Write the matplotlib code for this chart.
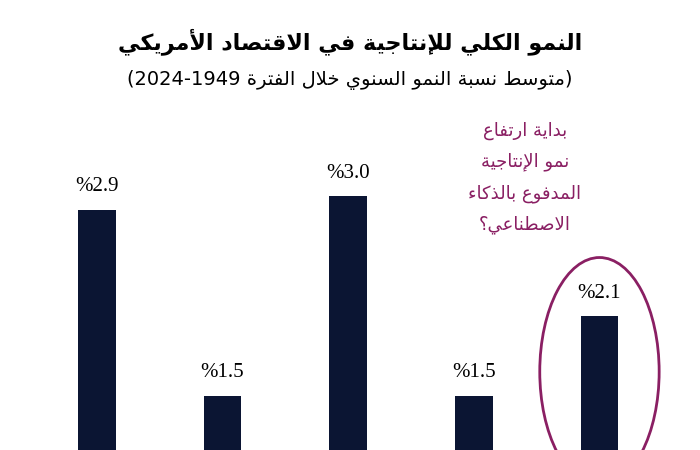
import re
import unicodedata
import matplotlib.pyplot as plt
from matplotlib.patches import Ellipse

periods = [0, 1, 2, 3, 4]
growth = [2.9, 1.5, 3.0, 1.5, 2.1]
labels = ["%2.9", "%1.5", "%3.0", "%1.5", "%2.1"]
title = "النمو الكلي للإنتاجية في الاقتصاد الأمريكي"
subtitle = "(متوسط نسبة النمو السنوي خلال الفترة 2024-1949)"
note = ["بداية ارتفاع", "نمو الإنتاجية", "المدفوع بالذكاء", "الاصطناعي؟"]

NAVY = "#0b1533"
PURPLE = "#8a1f63"


def forms(name):
    d = {}
    for f in ["ISOLATED", "FINAL", "INITIAL", "MEDIAL"]:
        try:
            d[f] = unicodedata.lookup(name + " " + f + " FORM")
        except KeyError:
            pass
    return d


LAM_ALEF = {"ا": "ARABIC LIGATURE LAM WITH ALEF",
            "أ": "ARABIC LIGATURE LAM WITH ALEF WITH HAMZA ABOVE",
            "إ": "ARABIC LIGATURE LAM WITH ALEF WITH HAMZA BELOW",
            "آ": "ARABIC LIGATURE LAM WITH ALEF WITH MADDA ABOVE"}


def shape(text):
    toks = []
    i = 0
    while i < len(text):
        ch = text[i]
        if ch == "ل" and i + 1 < len(text) and text[i + 1] in LAM_ALEF:
            toks.append(forms(LAM_ALEF[text[i + 1]]))
            i += 2
            continue
        if "\u0621" <= ch <= "\u064a":
            toks.append(forms(unicodedata.name(ch)))
        else:
            toks.append(ch)
        i += 1
    out = []
    for k, t in enumerate(toks):
        if isinstance(t, str):
            out.append(t)
            continue
        prev = toks[k - 1] if k > 0 else None
        nxt = toks[k + 1] if k + 1 < len(toks) else None
        jp = isinstance(prev, dict) and "INITIAL" in prev
        jn = isinstance(nxt, dict) and "INITIAL" in t
        if jp and jn and "MEDIAL" in t:
            out.append(t["MEDIAL"])
        elif jp and "FINAL" in t:
            out.append(t["FINAL"])
        elif jn:
            out.append(t["INITIAL"])
        else:
            out.append(t.get("ISOLATED", ""))
    s = "".join(out)
    runs = re.findall(r"[0-9.\-%]+|[^0-9.\-%]+", s)
    mirror = {"(": ")", ")": "("}
    vis = []
    for r in reversed(runs):
        if re.match(r"[0-9.\-%]", r):
            vis.append(r)
        else:
            vis.append("".join(mirror.get(c, c) for c in reversed(r)))
    return "".join(vis)


fig = plt.figure(figsize=(7, 4.5), dpi=100)
ax = fig.add_axes([0, 0, 1, 1])
ax.bar(periods, growth, width=0.30, color=NAVY)
ax.set_xlim(-0.77, 4.8)
ax.set_ylim(1.09, 4.48)
ax.axis("off")

for x, v, lab in zip(periods, growth, labels):
    ax.text(x, v + 0.1, lab, ha="center", va="bottom", fontsize=15,
            family="Liberation Serif")

ax.add_patch(Ellipse((4.0, 1.68), 0.95, 1.72, fill=False, ec=PURPLE, lw=2))

fig.text(0.5, 0.907, shape(title), ha="center", va="center", fontsize=16,
         fontweight="bold", family="DejaVu Sans")
fig.text(0.5, 0.822, shape(subtitle), ha="center", va="center", fontsize=14,
         family="DejaVu Sans")
for j, line in enumerate(note):
    fig.text(0.75, 0.71 - j * 0.07, shape(line), ha="center", va="center",
             fontsize=13, color=PURPLE, family="DejaVu Sans")

fig.savefig("out.png", dpi=100)
